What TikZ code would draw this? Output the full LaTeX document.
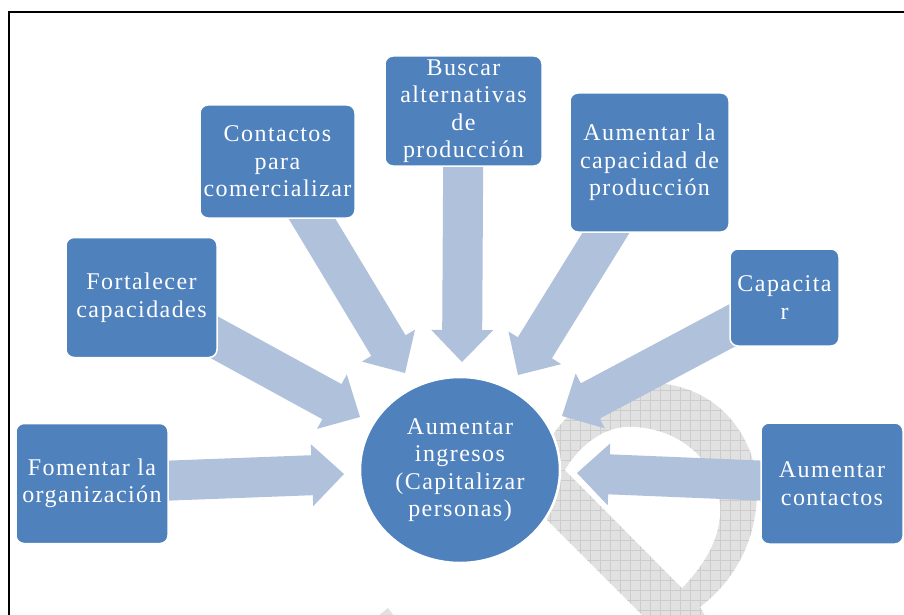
\documentclass[tikz,border=0pt]{standalone}
\usepackage{fontspec}
\setmainfont{Liberation Serif}[LetterSpace=6]
\usetikzlibrary{calc,shapes.geometric}
\definecolor{boxblue}{RGB}{79,129,189}
\definecolor{arrowblue}{RGB}{176,193,220}
\definecolor{wmgray}{RGB}{225,225,225}
\definecolor{wmline}{RGB}{204,204,204}
\newcommand\boxfont{\fontsize{24pt}{27.5pt}\selectfont}
\newcommand\bigarrowfromto[2]{%
  \fill[bigarrow] ($(#1)!20pt!90:(#2)$)
    -- ($(#2)!32pt!(#1)!20pt!90:(#2)$)
    -- ($(#2)!32pt!(#1)!31pt!90:(#2)$)
    -- (#2)
    -- ($(#2)!32pt!(#1)!31pt!-90:(#2)$)
    -- ($(#2)!32pt!(#1)!20pt!-90:(#2)$)
    -- ($(#1)!20pt!-90:(#2)$) -- cycle;}
\pgfdeclarelayer{wm}
\pgfdeclarelayer{arr}
\pgfsetlayers{wm,arr,main}
\tikzset{
  box/.style={draw=white, line width=1.5pt, fill=boxblue, rounded corners=8pt,
    text=white, align=center, font=\boxfont, inner sep=0pt,
    execute at begin node={\rule{0pt}{25pt}}},
  hub/.style={ellipse, draw=white, line width=2.5pt, fill=boxblue, text=white,
    align=center, font=\boxfont, inner sep=0pt, minimum width=200pt, minimum height=186pt,
    execute at begin node={\rule{0pt}{25pt}}},
  bigarrow/.style={fill=arrowblue},
  frameline/.style={line width=2pt, black},
  wmfill/.style={fill=wmgray},
  wmgrid/.style={draw=wmline, line width=0.5pt}
}
\begin{document}
\begin{tikzpicture}[x=1pt,y=-1pt]
\useasboundingbox (0,0) rectangle (904,615);

% boxes
\node[box, minimum width=152pt, minimum height=120pt] (b1) at (92,483.5) {Fomentar la\\organización};
\node[box, minimum width=151pt, minimum height=120pt] (b2) at (141.5,297.5) {Fortalecer\\capacidades};
\node[box, minimum width=155pt, minimum height=113pt] (b3) at (277.5,161.5) {Contactos\\para\\comercializar};
\node[box, minimum width=157pt, minimum height=110pt] (b4) at (463.5,111) {Buscar\\alternativas\\de\\producción};
\node[box, minimum width=159pt, minimum height=139pt] (b5) at (649.5,162.5) {Aumentar la\\capacidad de\\producción};
\node[box, minimum width=109pt, minimum height=97pt] (b6) at (784.5,297.5) {Capacita\\r};
\node[box, minimum width=142pt, minimum height=121pt] (b7) at (832,483.5) {Aumentar\\contactos};
\node[hub] (hub) at (460,470) {Aumentar\\ingresos\\(Capitalizar\\personas)};

% arrow tips
\coordinate (t1) at (344,474);
\coordinate (t2) at (360,417);
\coordinate (t3) at (405,373);
\coordinate (t4) at (462,362);
\coordinate (t5) at (518,375);
\coordinate (t6) at (562,416);
\coordinate (t7) at (577,473);

\begin{pgfonlayer}{arr}
\bigarrowfromto{b1.center}{t1}
\bigarrowfromto{b2.center}{t2}
\bigarrowfromto{b3.center}{t3}
\bigarrowfromto{b4.center}{t4}
\bigarrowfromto{b5.center}{t5}
\bigarrowfromto{b6.center}{t6}
\bigarrowfromto{b7.center}{t7}
\end{pgfonlayer}

% background and watermark
\begin{pgfonlayer}{wm}
\fill[white] (0,0) rectangle (904,615);
\begin{scope}
\clip (655,628) -- (528,501) .. controls (540,425) and (590,383) .. (650,383)
  .. controls (715,383) and (757,435) .. (757,490)
  .. controls (757,540) and (735,580) .. (700,607) -- (712,628) -- cycle;
\fill[wmfill] (500,360) rectangle (800,640);
\draw[wmgrid, step=10pt] (500,360) grid (800,640);
\end{scope}
\fill[white] (565,470) -- (682,588) .. controls (706,563) and (722,535) .. (720,505)
  .. controls (716,455) and (672,425) .. (625,427)
  .. controls (600,429) and (578,448) .. (565,470) -- cycle;
\fill[wmfill] (378,616) -- (388,608) -- (394,616) -- cycle;
\end{pgfonlayer}

% frame
\draw[frameline] (9,616) -- (9,12) -- (905,12);
\end{tikzpicture}
\end{document}
